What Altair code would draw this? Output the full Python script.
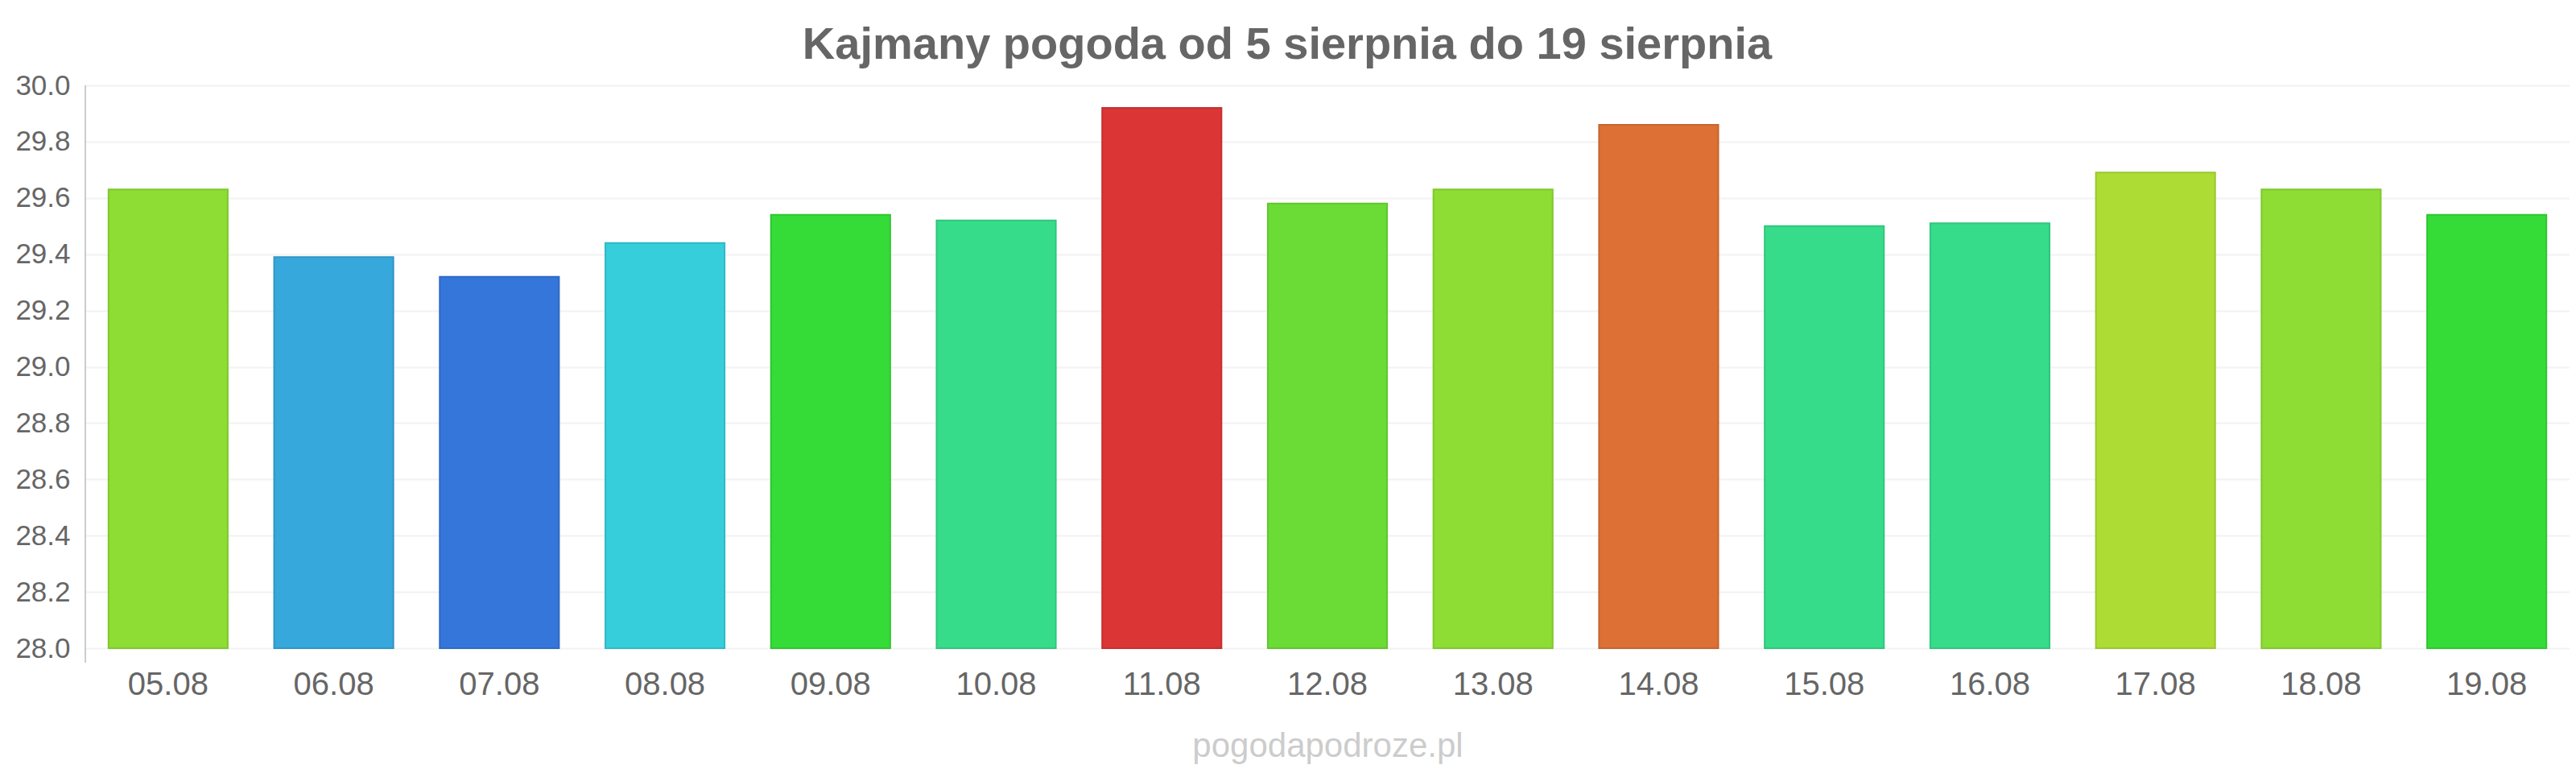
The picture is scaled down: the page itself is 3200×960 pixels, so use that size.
import altair as alt
import pandas as pd

dates = ["05.08", "06.08", "07.08", "08.08", "09.08", "10.08", "11.08", "12.08",
         "13.08", "14.08", "15.08", "16.08", "17.08", "18.08", "19.08"]
temps = [29.63, 29.39, 29.32, 29.44, 29.54, 29.52, 29.92, 29.58,
         29.63, 29.86, 29.50, 29.51, 29.69, 29.63, 29.54]
fills = ["#8ddd35", "#36a8db", "#3576db", "#36cedb", "#35dc38", "#36dc8a", "#db3535", "#6adc35",
         "#8ddd35", "#dc7035", "#36dc8a", "#36dc8a", "#addd35", "#8ddd35", "#35dc38"]
strokes = ["#7fc82f", "#3097c5", "#3069c5", "#30b9c5", "#30c632", "#30c67c", "#c53030", "#5fc630",
           "#7fc82f", "#c66430", "#30c67c", "#30c67c", "#9bc72f", "#7fc82f", "#30c632"]
y_ticks = [28.0, 28.2, 28.4, 28.6, 28.8, 29.0, 29.2, 29.4, 29.6, 29.8, 30.0]

title_text = "Kajmany pogoda od 5 sierpnia do 19 sierpnia"
watermark = "pogodapodroze.pl"

df = pd.DataFrame({"date": dates, "temp": temps})

W = 3086
H = 699
FONT = "Liberation Sans"

bars = alt.Chart(df).mark_bar(strokeWidth=2).encode(
    x=alt.X("date:N", sort=dates,
            scale=alt.Scale(paddingInner=0.28, paddingOuter=0.14),
            axis=alt.Axis(title=watermark, labelAngle=0, labelFontSize=40, labelColor="#666666",
                          labelFont=FONT, labelPadding=25, ticks=False, tickSize=0, domain=False,
                          grid=False, titleFont=FONT, titleFontSize=42, titleFontWeight="normal",
                          titleColor="#cccccc", titlePadding=36)),
    y=alt.Y("temp:Q", scale=alt.Scale(domain=[28.0, 30.0], zero=False, nice=False),
            axis=alt.Axis(title=None, values=y_ticks, format=".1f", labelFontSize=35,
                          labelColor="#666666", labelFont=FONT, labelPadding=19, ticks=False,
                          tickSize=0, domain=False, grid=True, gridColor="#f2f2f2", gridWidth=2)),
    y2=alt.datum(28.0),
    color=alt.Color("date:N", scale=alt.Scale(domain=dates, range=fills), legend=None),
    stroke=alt.Stroke("date:N", scale=alt.Scale(domain=dates, range=strokes), legend=None),
)

axis_line = alt.Chart(df).mark_rule(color="#cccccc", strokeWidth=2).encode(
    x=alt.value(0), y=alt.value(0), y2=alt.value(H + 18)
)

chart = alt.layer(bars, axis_line).properties(
    width=W,
    height=H,
    title=alt.TitleParams(title_text, font=FONT, fontSize=56, fontWeight="bold", color="#666666",
                          anchor="middle", frame="group", dx=-50, dy=56, offset=16,
                          baseline="alphabetic"),
    autosize=alt.AutoSizeParams(type="none"),
    padding={"left": 98, "top": 98, "right": 0, "bottom": 147},
).configure_view(stroke=None).configure(background="white")

chart.save("out.html", embed_options={"renderer": "svg", "actions": False})
